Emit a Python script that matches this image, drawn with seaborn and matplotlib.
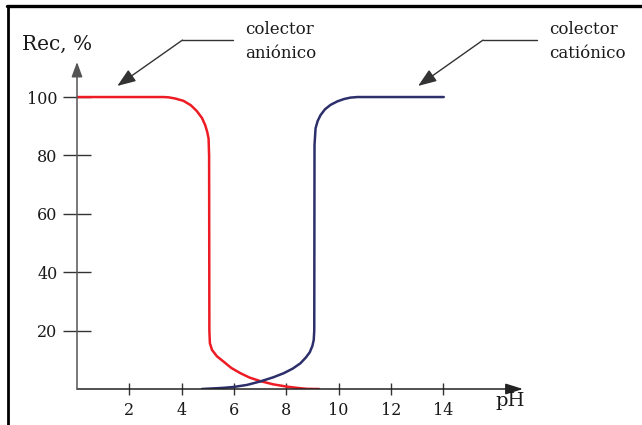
import matplotlib
matplotlib.use('Agg')
import matplotlib.pyplot as plt
import seaborn as sns
from matplotlib.lines import Line2D

# flotation recovery vs pH
red_ph = [0, 3.3, 3.5, 3.75, 4.07, 4.35, 4.58, 4.78, 4.9, 4.98, 5.03, 5.05, 5.06, 5.08, 5.16,
          5.35, 5.6, 5.9, 6.25, 6.6, 7.01, 7.5, 8.03, 8.5, 8.8, 9.25]
red_rec = [100, 100, 99.9, 99.5, 98.7, 97.2, 95.2, 92.8, 90.4, 88, 85.8, 80, 20, 15.7, 13.4,
           11.2, 9.4, 7.2, 5.4, 3.9, 2.7, 1.6, 0.8, 0.3, 0.05, 0]
blue_ph = [4.78, 5.2, 5.6, 5.99, 6.5, 7.01, 7.5, 7.9, 8.25, 8.54, 8.75, 8.9, 9.0, 9.05, 9.07,
           9.08, 9.12, 9.2, 9.31, 9.48, 9.69, 9.95, 10.2, 10.45, 10.72, 14.02]
blue_rec = [0, 0.2, 0.4, 0.7, 1.4, 2.6, 4.0, 5.4, 7.0, 8.8, 10.8, 12.6, 14.8, 16.8, 20,
            83.6, 89.3, 91.8, 93.8, 95.8, 97.3, 98.5, 99.3, 99.8, 100, 100]

x_ticks = [2, 4, 6, 8, 10, 12, 14]
y_ticks = [20, 40, 60, 80, 100]
x_max, y_max = 17.05, 112.0

sns.set_style('white')
plt.rcParams['font.family'] = ['DejaVu Serif']
plt.rcParams['text.color'] = '#1a1a1a'
plt.rcParams['xtick.labelcolor'] = '#1a1a1a'
plt.rcParams['ytick.labelcolor'] = '#1a1a1a'

fig = plt.figure(figsize=(6.42, 4.25), dpi=100)
ax = fig.add_axes([77 / 642, 36 / 425, 446 / 642, 327 / 425])

sns.lineplot(x=red_ph, y=red_rec, sort=False, estimator=None, color='#ed1c24', lw=1.8, ax=ax)
sns.lineplot(x=blue_ph, y=blue_rec, sort=False, estimator=None, color='#2d2f6b', lw=1.8, ax=ax)

ax.set_xlim(0, x_max)
ax.set_ylim(0, y_max)
for s in ax.spines.values():
    s.set_visible(False)
ax.set_xticks(x_ticks)
ax.set_yticks(y_ticks)
ax.tick_params(axis='x', direction='inout', length=9, width=1, color='#333333', pad=5, labelsize=11.5)
ax.tick_params(axis='y', direction='inout', length=20, width=1, color='#333333', pad=4, labelsize=11.5)
ax.tick_params(left=True, bottom=True)

# axes drawn as arrows
ax.annotate('', xy=(1, 0), xytext=(0, 0), xycoords='axes fraction',
            arrowprops=dict(arrowstyle='-|>,head_length=0.7,head_width=0.22', color='#222222',
                            lw=1.1, shrinkA=0, shrinkB=0, mutation_scale=15))
ax.annotate('', xy=(0, 1), xytext=(0, 0), xycoords='axes fraction',
            arrowprops=dict(arrowstyle='-|>,head_length=0.6,head_width=0.22', color='#555555',
                            lw=1.1, shrinkA=0, shrinkB=0, mutation_scale=15))

fig.text(22 / 642, 1 - 50 / 425, 'Rec, %', fontsize=14.5, ha='left', va='baseline')
fig.text(495 / 642, 1 - 406 / 425, 'pH', fontsize=14, ha='left', va='baseline')

# collector callouts
for tx, jx, lx, lab in [(1.54, 4.03, 5.98, 'aniónico'), (13.04, 15.52, 17.59, 'catiónico')]:
    ax.plot([jx, lx], [119.5, 119.5], color='#333333', lw=1.0, clip_on=False)
    ax.annotate('', xy=(tx, 103.8), xytext=(jx, 119.5), annotation_clip=False,
                arrowprops=dict(arrowstyle='-|>,head_length=0.8,head_width=0.3', color='#333333',
                                lw=1.0, shrinkA=0, shrinkB=0, mutation_scale=14))
    ax.text(lx + 0.45, 121.5, 'colector', fontsize=12, ha='left', va='baseline')
    ax.text(lx + 0.45, 113.3, lab, fontsize=12, ha='left', va='baseline')

# page frame
fig.add_artist(Line2D([7 / 642, 1], [1 - 6 / 425, 1 - 6 / 425], color='black', lw=2.4))
fig.add_artist(Line2D([8 / 642, 8 / 642], [0, 1 - 6 / 425], color='black', lw=2.0))

fig.savefig('out.png', dpi=100)
